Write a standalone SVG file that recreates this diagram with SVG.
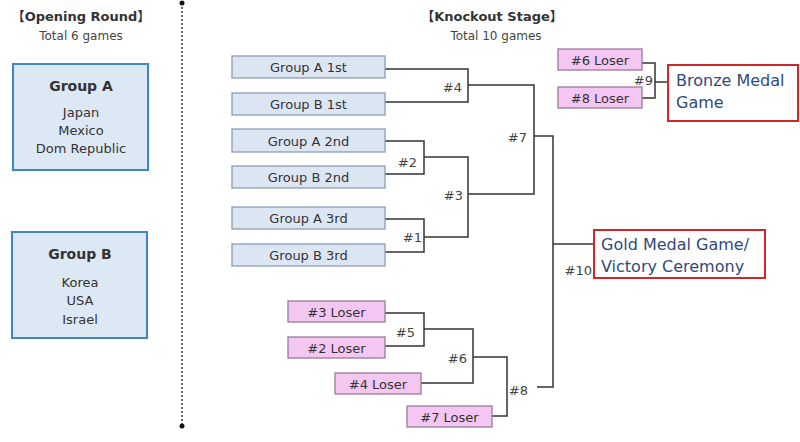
<svg xmlns="http://www.w3.org/2000/svg" width="800" height="442" viewBox="0 0 800 442">
<style>
text{font-family:"DejaVu Sans","Noto Sans CJK JP",sans-serif;fill:#333}
.hd{font-weight:bold;font-size:13px;text-anchor:middle;fill:#333}
.sub{font-size:12px;text-anchor:middle;fill:#444}
.grp{fill:#dde8f5;stroke:#3f86c8;stroke-width:2}
.gt{font-weight:bold;font-size:14px;text-anchor:middle}
.gm{font-size:13px;text-anchor:middle}
.bb{fill:#dce6f2;stroke:#8c9db5;stroke-width:1.3}
.pb{fill:#f4c6f2;stroke:#9a7a9a;stroke-width:1.3}
.bt{font-size:13px;text-anchor:middle}
.fin{fill:#fff;stroke:#cc2a2a;stroke-width:2}
.ft{font-size:16px;fill:#2f4a7a}
.ln{fill:none;stroke:#333;stroke-width:1.5}
.lb{font-size:13px;text-anchor:end;fill:#444}
</style>

<text class="hd" x="81" y="21">【Opening Round】</text>
<text class="sub" x="81" y="40">Total 6 games</text>

<g id="groupA">
<rect class="grp" x="13" y="64" width="135" height="106"/>
<text class="gt" x="81" y="91">Group A</text>
<text class="gm" x="81" y="117">Japan</text>
<text class="gm" x="81" y="135">Mexico</text>
<text class="gm" x="81" y="153">Dom Republic</text>
</g>
<g id="groupB">
<rect class="grp" x="12" y="232" width="135" height="106"/>
<text class="gt" x="80" y="259">Group B</text>
<text class="gm" x="80" y="287">Korea</text>
<text class="gm" x="80" y="305">USA</text>
<text class="gm" x="80" y="324">Israel</text>
</g>

<g id="divider">
<line x1="182" y1="3" x2="182" y2="426" stroke="#333" stroke-width="1.5" stroke-dasharray="2 2"/>
<circle cx="182" cy="3" r="2.5" fill="#111"/>
<circle cx="182" cy="426" r="2.5" fill="#111"/>
</g>

<text class="hd" x="492" y="21">【Knockout Stage】</text>
<text class="sub" x="496" y="40">Total 10 games</text>

<g id="connectors">
<path class="ln" d="M385 69H468V102H385"/>
<path class="ln" d="M468 85H534V194H468"/>
<path class="ln" d="M385 141H424V174H385"/>
<path class="ln" d="M385 219H424V252H385"/>
<path class="ln" d="M424 157H468V237H424"/>
<path class="ln" d="M534 136H553V387H537"/>
<path class="ln" d="M553 244H594"/>
<path class="ln" d="M385 313H424V346H385"/>
<path class="ln" d="M424 329H473V383H421"/>
<path class="ln" d="M473 357H507V416H492"/>
<path class="ln" d="M642 63H655V98H642"/>
<path class="ln" d="M655 82H668"/>
<text class="lb" x="462" y="92">#4</text>
<text class="lb" x="527" y="142">#7</text>
<text class="lb" x="417" y="167">#2</text>
<text class="lb" x="422" y="242">#1</text>
<text class="lb" x="463" y="200">#3</text>
<text class="lb" x="415" y="337">#5</text>
<text class="lb" x="467" y="363">#6</text>
<text class="lb" x="528" y="395">#8</text>
<text class="lb" x="653" y="85">#9</text>
<text class="lb" x="592" y="275">#10</text>
</g>

<g id="gA1"><rect class="bb" x="232" y="56" width="153" height="22"/><text class="bt" x="308.5" y="72">Group A 1st</text></g>
<g id="gB1"><rect class="bb" x="232" y="93" width="153" height="22"/><text class="bt" x="308.5" y="109">Group B 1st</text></g>
<g id="gA2"><rect class="bb" x="232" y="129" width="153" height="23"/><text class="bt" x="308.5" y="145.5">Group A 2nd</text></g>
<g id="gB2"><rect class="bb" x="232" y="166" width="153" height="22"/><text class="bt" x="308.5" y="182">Group B 2nd</text></g>
<g id="gA3"><rect class="bb" x="232" y="207" width="153" height="22"/><text class="bt" x="308.5" y="223">Group A 3rd</text></g>
<g id="gB3"><rect class="bb" x="232" y="244" width="153" height="22"/><text class="bt" x="308.5" y="260">Group B 3rd</text></g>

<g id="l3"><rect class="pb" x="288" y="301" width="97" height="21"/><text class="bt" x="336.5" y="316.5">#3 Loser</text></g>
<g id="l2"><rect class="pb" x="288" y="337" width="97" height="21"/><text class="bt" x="336.5" y="352.5">#2 Loser</text></g>
<g id="l4"><rect class="pb" x="335" y="373" width="86" height="21"/><text class="bt" x="378" y="388.5">#4 Loser</text></g>
<g id="l7"><rect class="pb" x="407" y="406" width="85" height="21"/><text class="bt" x="449.5" y="421.5">#7 Loser</text></g>
<g id="l6"><rect class="pb" x="558" y="49" width="84" height="21"/><text class="bt" x="600" y="64.5">#6 Loser</text></g>
<g id="l8"><rect class="pb" x="558" y="87" width="84" height="21"/><text class="bt" x="600" y="102.5">#8 Loser</text></g>

<g id="bronze"><rect class="fin" x="668" y="65" width="130" height="56"/><text class="ft" x="676" y="86">Bronze Medal</text><text class="ft" x="676" y="108">Game</text></g>
<g id="gold"><rect class="fin" x="594" y="230" width="171" height="48"/><text class="ft" x="601" y="250">Gold Medal Game/</text><text class="ft" x="601" y="272">Victory Ceremony</text></g>
</svg>
